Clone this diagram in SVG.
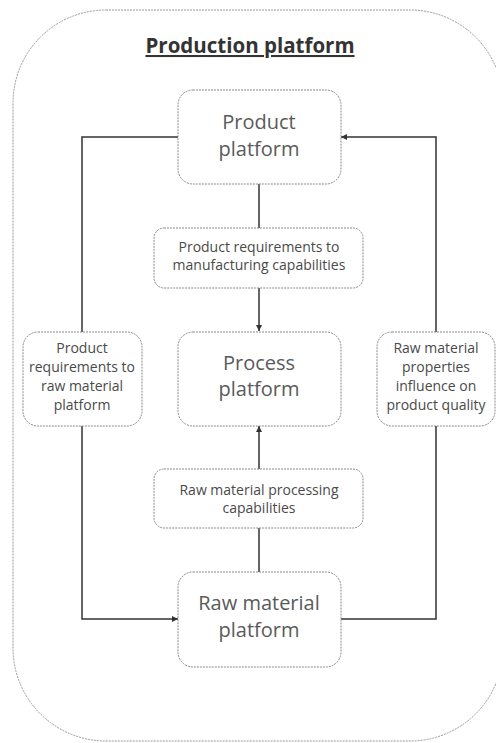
<svg xmlns="http://www.w3.org/2000/svg" width="496" height="743" viewBox="0 0 496 743">
  <style>
    .frame { fill: #ffffff; stroke: #9a9a9a; stroke-width: 1; stroke-dasharray: 2 1; }
    .node { fill: #ffffff; stroke: #8a8a8a; stroke-width: 1; stroke-dasharray: 2 1; }
    .big { font-family: "Open Sans", "DejaVu Sans", sans-serif; font-size: 20px; fill: #5a5a5a; text-anchor: middle; }
    .small { font-family: "Open Sans", "DejaVu Sans", sans-serif; font-size: 14px; fill: #4a4a4a; text-anchor: middle; }
    .title { font-family: "Open Sans", "DejaVu Sans", sans-serif; font-size: 20.5px; font-weight: bold; fill: #333333; text-anchor: middle; text-decoration: underline; }
    .link { fill: none; stroke: #333333; stroke-width: 1.5; }
  </style>
  <defs>
    <marker id="arrow" viewBox="0 0 10 10" refX="10" refY="5" markerWidth="6" markerHeight="6" markerUnits="userSpaceOnUse" orient="auto">
      <path d="M0,0 L10,5 L0,10 z" fill="#333333"/>
    </marker>
  </defs>

  <rect width="496" height="743" fill="#ffffff"/>

  <!-- outer production platform frame -->
  <g id="production-platform">
    <rect class="frame" x="13" y="10" width="490" height="731" rx="93" ry="93"/>
    <text class="title" x="250" y="53">Production platform</text>
  </g>

  <!-- connectors -->
  <g id="connectors">
    <path class="link" d="M178,137 H82 V619 H178" marker-end="url(#arrow)"/>
    <path class="link" d="M341,619 H436 V137 H341" marker-end="url(#arrow)"/>
    <path class="link" d="M259,184 V228"/>
    <path class="link" d="M259,288 V331" marker-end="url(#arrow)"/>
    <path class="link" d="M259,469 V426" marker-end="url(#arrow)"/>
    <path class="link" d="M259,528 V572"/>
  </g>

  <g id="product-platform">
    <rect class="node" x="178" y="90" width="163" height="94" rx="15"/>
    <text class="big" x="259" y="129">Product</text>
    <text class="big" x="259" y="156">platform</text>
  </g>

  <g id="req-to-manufacturing">
    <rect class="node" x="154" y="228" width="209" height="60" rx="10"/>
    <text class="small" x="259" y="252">Product requirements to</text>
    <text class="small" x="259" y="270">manufacturing capabilities</text>
  </g>

  <g id="process-platform">
    <rect class="node" x="178" y="332" width="163" height="94" rx="15"/>
    <text class="big" x="259" y="370">Process</text>
    <text class="big" x="259" y="396">platform</text>
  </g>

  <g id="req-to-raw-material">
    <rect class="node" x="23" y="332" width="119" height="94" rx="15"/>
    <text class="small" x="82" y="353">Product</text>
    <text class="small" x="82" y="372">requirements to</text>
    <text class="small" x="82" y="391">raw material</text>
    <text class="small" x="82" y="410">platform</text>
  </g>

  <g id="raw-material-influence">
    <rect class="node" x="377" y="332" width="118" height="94" rx="15"/>
    <text class="small" x="436" y="353">Raw material</text>
    <text class="small" x="436" y="372">properties</text>
    <text class="small" x="436" y="391">influence on</text>
    <text class="small" x="436" y="410">product quality</text>
  </g>

  <g id="raw-processing-capabilities">
    <rect class="node" x="154" y="469" width="209" height="59" rx="10"/>
    <text class="small" x="259" y="495">Raw material processing</text>
    <text class="small" x="259" y="513">capabilities</text>
  </g>

  <g id="raw-material-platform">
    <rect class="node" x="178" y="572" width="163" height="95" rx="15"/>
    <text class="big" x="259" y="610">Raw material</text>
    <text class="big" x="259" y="637">platform</text>
  </g>
</svg>
